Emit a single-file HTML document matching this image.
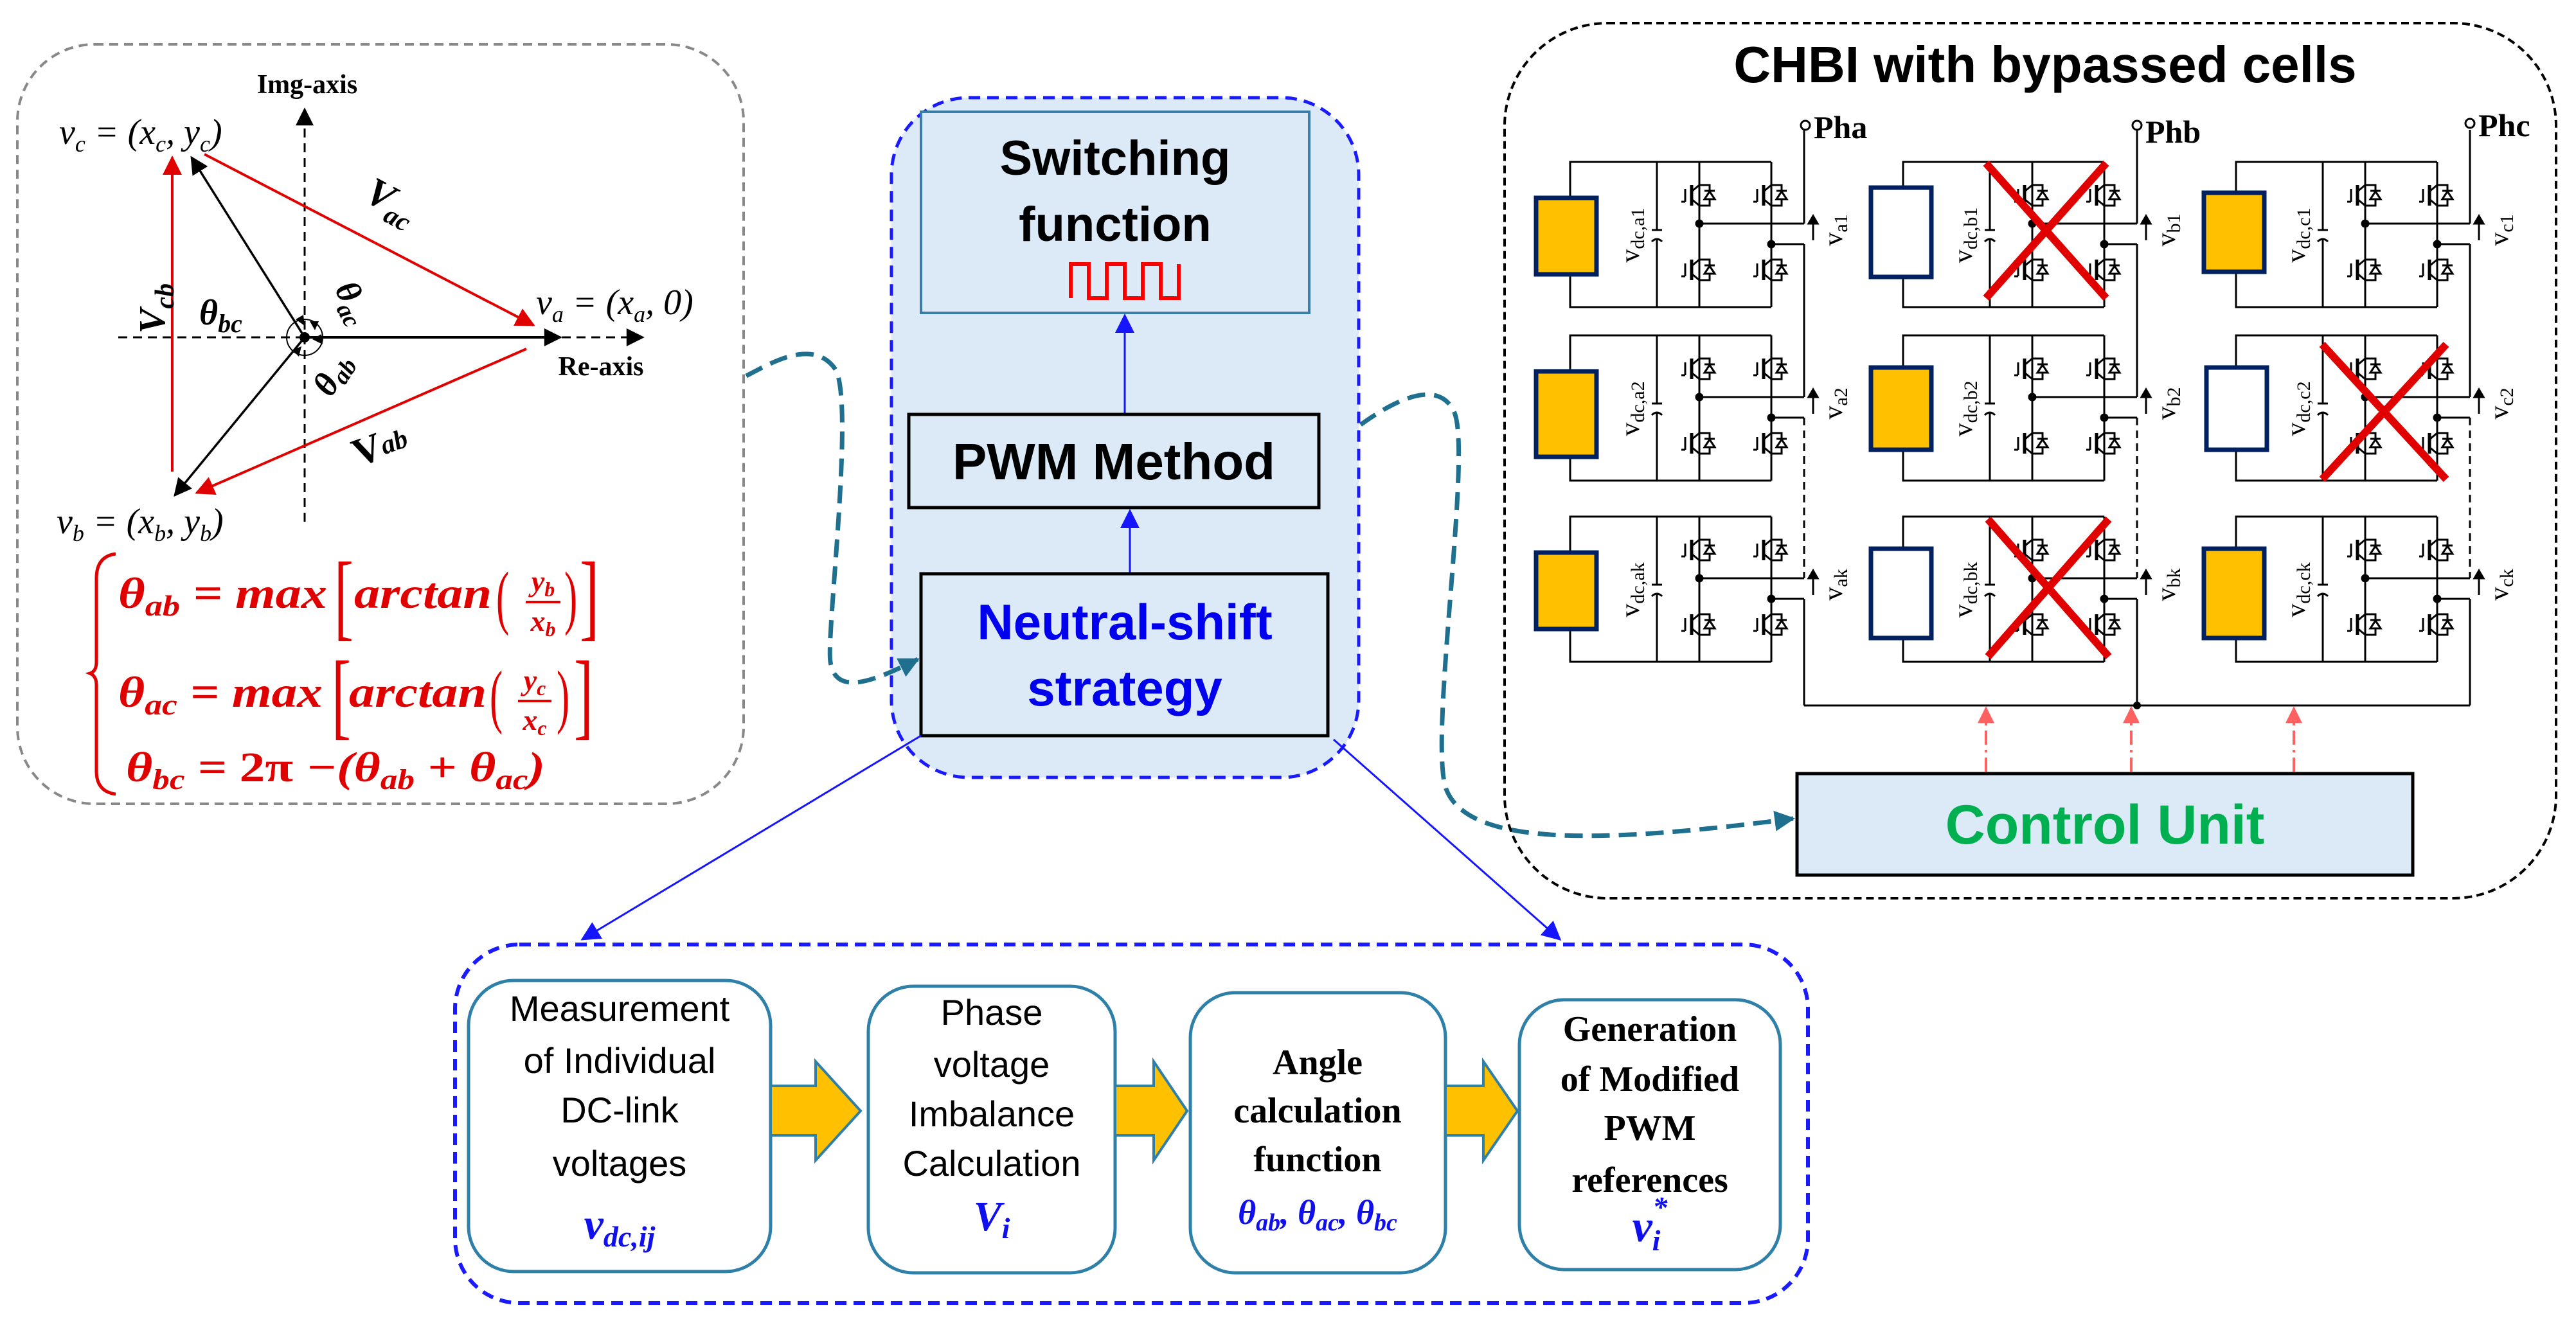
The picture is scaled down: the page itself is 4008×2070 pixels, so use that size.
<!DOCTYPE html>
<html><head><meta charset="utf-8"><style>
html,body{margin:0;padding:0;background:#fff;}
svg{display:block;}
.ser{font-family:"Liberation Serif",serif;}
.san{font-family:"Liberation Sans",sans-serif;}
</style></head><body>
<svg width="4008" height="2070" viewBox="0 0 4008 2070" xmlns="http://www.w3.org/2000/svg">
<defs>
<marker id="ar" viewBox="0 0 10 10" refX="9" refY="5" markerWidth="34" markerHeight="30" orient="auto" markerUnits="userSpaceOnUse"><path d="M0 0L10 5L0 10Z" fill="#e00000"/></marker>
<marker id="ak" viewBox="0 0 10 10" refX="9" refY="5" markerWidth="34" markerHeight="28" orient="auto" markerUnits="userSpaceOnUse"><path d="M0 0L10 5L0 10Z" fill="#000"/></marker>
<marker id="abl" viewBox="0 0 10 10" refX="9" refY="5" markerWidth="36" markerHeight="30" orient="auto" markerUnits="userSpaceOnUse"><path d="M0 0L10 5L0 10Z" fill="#1515ff"/></marker>
<marker id="at" viewBox="0 0 10 10" refX="9" refY="5" markerWidth="38" markerHeight="32" orient="auto" markerUnits="userSpaceOnUse"><path d="M0 0L10 5L0 10Z" fill="#1f6f8f"/></marker>
<marker id="apk" viewBox="0 0 10 10" refX="9" refY="5" markerWidth="28" markerHeight="26" orient="auto" markerUnits="userSpaceOnUse"><path d="M0 0L10 5L0 10Z" fill="#ff6060"/></marker>
<g id="sw" fill="none" stroke="#000" stroke-width="3">
  <path d="M-12 -16V16" stroke-width="5"/>
  <path d="M-22 -10V10M-22 10H-28"/>
  <path d="M-12 -6L0 -16M-12 6L0 16"/>
  <path d="M0 -16H16V16H0"/>
  <path d="M8 6H24L16 -6Z" fill="#fff"/>
  <path d="M8 -7H24"/>
</g>
<g id="cell" fill="none" stroke="#000" stroke-width="3">
  <path d="M313 0H0V226H313"/>
  <path d="M135 0V106M135 120V226M127 106H143M127 124Q135 116 143 124"/>
  <path d="M201 0V226M313 0V226"/>
  <path d="M201 96H364M313 128H364"/>
  <path d="M135 0H313M135 226H313"/>
  <use href="#sw" x="201" y="52"/><use href="#sw" x="201" y="168"/>
  <use href="#sw" x="313" y="52"/><use href="#sw" x="313" y="168"/>
  <circle cx="201" cy="96" r="5" fill="#000"/><circle cx="313" cy="128" r="5" fill="#000"/>
  <path d="M378 122V88"/><path d="M371 96L378 84L385 96Z" fill="#000"/>
</g>
</defs>

<!-- LEFT PANEL -->
<rect x="27" y="69" width="1130" height="1182" rx="120" fill="none" stroke="#888" stroke-width="4" stroke-dasharray="14 9"/>
<text x="478" y="145" class="ser" font-size="42" font-weight="bold" text-anchor="middle">Img-axis</text>
<line x1="474" y1="812" x2="474" y2="170" stroke="#000" stroke-width="3" stroke-dasharray="14 9" marker-end="url(#ak)"/>
<line x1="184" y1="525" x2="1000" y2="525" stroke="#000" stroke-width="3" stroke-dasharray="14 9" marker-end="url(#ak)"/>
<text x="935" y="584" class="ser" font-size="42" font-weight="bold" text-anchor="middle">Re-axis</text>
<line x1="268" y1="734" x2="268" y2="245" stroke="#e00000" stroke-width="4" marker-end="url(#ar)"/>
<line x1="318" y1="240" x2="830" y2="506" stroke="#e00000" stroke-width="4" marker-end="url(#ar)"/>
<line x1="819" y1="543" x2="306" y2="767" stroke="#e00000" stroke-width="4" marker-end="url(#ar)"/>
<line x1="474" y1="525" x2="298" y2="245" stroke="#000" stroke-width="3.5" marker-end="url(#ak)"/>
<line x1="474" y1="525" x2="872" y2="525" stroke="#000" stroke-width="4" marker-end="url(#ak)"/>
<line x1="474" y1="525" x2="272" y2="771" stroke="#000" stroke-width="3.5" marker-end="url(#ak)"/>
<circle cx="474" cy="525" r="28" fill="none" stroke="#000" stroke-width="2"/>
<circle cx="474" cy="525" r="8" fill="#000"/>
<path d="M460 497l14 10l-2-17zM500 520l-14 8l16 8zM455 545l14-6l-4 16zM482 500l8 14l6-14z" fill="#000"/>
<text x="92" y="224" class="ser" font-size="56" font-style="italic">v<tspan font-size="36" dy="12">c</tspan><tspan dy="-12"> = (x</tspan><tspan font-size="36" dy="12">c</tspan><tspan dy="-12">, y</tspan><tspan font-size="36" dy="12">c</tspan><tspan dy="-12">)</tspan></text>
<text x="834" y="489" class="ser" font-size="56" font-style="italic">v<tspan font-size="36" dy="12">a</tspan><tspan dy="-12"> = (x</tspan><tspan font-size="36" dy="12">a</tspan><tspan dy="-12">, 0)</tspan></text>
<text x="88" y="830" class="ser" font-size="56" font-style="italic">v<tspan font-size="36" dy="12">b</tspan><tspan dy="-12"> = (x</tspan><tspan font-size="36" dy="12">b</tspan><tspan dy="-12">, y</tspan><tspan font-size="36" dy="12">b</tspan><tspan dy="-12">)</tspan></text>
<text transform="translate(600,330) rotate(28)" class="ser" font-size="62" font-weight="bold" font-style="italic" text-anchor="middle">V<tspan font-size="42" dy="14">ac</tspan></text>
<text transform="translate(598,712) rotate(-20)" class="ser" font-size="62" font-weight="bold" text-anchor="middle">V<tspan font-size="42" font-style="italic" dy="-4">ab</tspan></text>
<text transform="translate(256,480) rotate(-90)" class="ser" font-size="58" font-weight="bold" font-style="italic" text-anchor="middle">V<tspan font-size="42" dy="14">cb</tspan></text>
<text x="310" y="505" class="ser" font-size="56" font-weight="bold" font-style="italic">θ<tspan font-size="40" dy="12">bc</tspan></text>
<text transform="translate(520,450) rotate(62)" class="ser" font-size="54" font-weight="bold" font-style="italic">θ<tspan font-size="38" dy="12">ac</tspan></text>
<text transform="translate(515,620) rotate(-58)" class="ser" font-size="54" font-weight="bold" font-style="italic">θ<tspan font-size="38" dy="8">ab</tspan></text>
<!-- equations -->
<path d="M180 862Q150 866 150 900V1030Q150 1045 140 1048Q150 1052 150 1066V1200Q150 1232 180 1236" fill="none" stroke="#e00000" stroke-width="5"/>
<g class="ser" fill="#e00000" font-weight="bold" font-style="italic">
<text x="184" y="946" font-size="68" textLength="325" lengthAdjust="spacingAndGlyphs">θ<tspan font-size="46" dy="12">ab</tspan><tspan dy="-12"> = max</tspan></text>
<text x="520" y="978" font-size="150" font-style="normal" font-weight="normal" transform="translate(520,978) scale(0.6,1) translate(-520,-978)">[</text>
<text x="551" y="946" font-size="68" textLength="214" lengthAdjust="spacingAndGlyphs">arctan</text>
<text x="772" y="966" font-size="110" font-weight="normal" font-style="normal" transform="translate(772,966) scale(0.55,1) translate(-772,-966)">(</text>
<text x="845" y="920" font-size="46" text-anchor="middle">y<tspan font-size="32" dy="8">b</tspan></text>
<line x1="818" y1="937" x2="872" y2="937" stroke="#e00000" stroke-width="4"/>
<text x="845" y="982" font-size="46" text-anchor="middle">x<tspan font-size="32" dy="8">b</tspan></text>
<text x="878" y="966" font-size="110" font-weight="normal" font-style="normal" transform="translate(878,966) scale(0.55,1) translate(-878,-966)">)</text>
<text x="902" y="978" font-size="150" font-style="normal" font-weight="normal" transform="translate(902,978) scale(0.6,1) translate(-902,-978)">]</text>

<text x="184" y="1100" font-size="68" textLength="318" lengthAdjust="spacingAndGlyphs">θ<tspan font-size="46" dy="12">ac</tspan><tspan dy="-12"> = max</tspan></text>
<text x="516" y="1132" font-size="150" font-style="normal" font-weight="normal" transform="translate(516,1132) scale(0.6,1) translate(-516,-1132)">[</text>
<text x="543" y="1100" font-size="68" textLength="214" lengthAdjust="spacingAndGlyphs">arctan</text>
<text x="762" y="1120" font-size="110" font-weight="normal" font-style="normal" transform="translate(762,1120) scale(0.55,1) translate(-762,-1120)">(</text>
<text x="832" y="1074" font-size="46" text-anchor="middle">y<tspan font-size="32" dy="8">c</tspan></text>
<line x1="806" y1="1091" x2="858" y2="1091" stroke="#e00000" stroke-width="4"/>
<text x="832" y="1136" font-size="46" text-anchor="middle">x<tspan font-size="32" dy="8">c</tspan></text>
<text x="866" y="1120" font-size="110" font-weight="normal" font-style="normal" transform="translate(866,1120) scale(0.55,1) translate(-866,-1120)">)</text>
<text x="893" y="1132" font-size="150" font-style="normal" font-weight="normal" transform="translate(893,1132) scale(0.6,1) translate(-893,-1132)">]</text>

<text x="196" y="1216" font-size="66" textLength="652" lengthAdjust="spacingAndGlyphs">θ<tspan font-size="44" dy="12">bc</tspan><tspan dy="-12"> = </tspan><tspan font-style="normal">2π</tspan><tspan> −(θ</tspan><tspan font-size="44" dy="12">ab</tspan><tspan dy="-12"> + θ</tspan><tspan font-size="44" dy="12">ac</tspan><tspan dy="-12">)</tspan></text>
</g>

<!-- MIDDLE PANEL -->
<rect x="1387" y="152" width="727" height="1058" rx="120" fill="#dbeaf6" stroke="#1a1aff" stroke-width="5" stroke-dasharray="18 11"/>
<rect x="1433" y="174" width="604" height="313" fill="#dbeaf6" stroke="#3a7ea8" stroke-width="4"/>
<text x="1735" y="272" class="san" font-size="76" font-weight="bold" text-anchor="middle">Switching</text>
<text x="1735" y="375" class="san" font-size="76" font-weight="bold" text-anchor="middle">function</text>
<path d="M1666 464V411H1694V464H1722V411H1750V464H1778V411H1806V464H1834V411" fill="none" stroke="#ff0000" stroke-width="6"/>
<line x1="1750" y1="645" x2="1750" y2="491" stroke="#1515ff" stroke-width="3" marker-end="url(#abl)"/>
<rect x="1414" y="645" width="638" height="145" fill="#dbeaf6" stroke="#000" stroke-width="5"/>
<text x="1733" y="746" class="san" font-size="80" font-weight="bold" text-anchor="middle">PWM Method</text>
<line x1="1758" y1="893" x2="1758" y2="795" stroke="#1515ff" stroke-width="3" marker-end="url(#abl)"/>
<rect x="1433" y="893" width="633" height="252" fill="#dbeaf6" stroke="#000" stroke-width="5"/>
<text x="1750" y="995" class="san" font-size="78" font-weight="bold" fill="#0000ee" text-anchor="middle">Neutral-shift</text>
<text x="1750" y="1098" class="san" font-size="78" font-weight="bold" fill="#0000ee" text-anchor="middle">strategy</text>

<!-- connectors -->
<path d="M1161 585C1200 565 1265 525 1300 575C1330 630 1285 990 1292 1030C1300 1085 1360 1060 1428 1026" fill="none" stroke="#1f6f8f" stroke-width="7" stroke-dasharray="28 14" marker-end="url(#at)"/>
<path d="M2117 661C2160 630 2235 585 2262 640C2292 700 2222 1150 2250 1228C2285 1320 2500 1312 2790 1274" fill="none" stroke="#1f6f8f" stroke-width="7" stroke-dasharray="28 14" marker-end="url(#at)"/>
<line x1="1433" y1="1145" x2="906" y2="1462" stroke="#1515ff" stroke-width="3" marker-end="url(#abl)"/>
<line x1="2075" y1="1151" x2="2427" y2="1462" stroke="#1515ff" stroke-width="3" marker-end="url(#abl)"/>

<!-- RIGHT PANEL -->
<rect x="2341" y="36" width="1636" height="1362" rx="160" fill="none" stroke="#000" stroke-width="4" stroke-dasharray="12 7"/>
<text x="3182" y="128" class="san" font-size="80" font-weight="bold" text-anchor="middle">CHBI with bypassed cells</text>

<g>
<use href="#cell" x="2443" y="252"/><use href="#cell" x="2443" y="522"/><use href="#cell" x="2443" y="804"/>
<use href="#cell" x="2961" y="252"/><use href="#cell" x="2961" y="522"/><use href="#cell" x="2961" y="804"/>
<use href="#cell" x="3479" y="252"/><use href="#cell" x="3479" y="522"/><use href="#cell" x="3479" y="804"/>
</g>
<g stroke="#002060" stroke-width="7">
<rect x="2390" y="308" width="94" height="119" fill="#ffc000"/>
<rect x="2390" y="578" width="94" height="133" fill="#ffc000"/>
<rect x="2390" y="860" width="94" height="119" fill="#ffc000"/>
<rect x="2911" y="292" width="94" height="139" fill="#fff"/>
<rect x="2911" y="572" width="94" height="128" fill="#ffc000"/>
<rect x="2911" y="854" width="94" height="139" fill="#fff"/>
<rect x="3429" y="300" width="94" height="123" fill="#ffc000"/>
<rect x="3433" y="572" width="94" height="128" fill="#fff"/>
<rect x="3429" y="854" width="94" height="139" fill="#ffc000"/>
</g>
<g fill="none" stroke="#000" stroke-width="3">
<path d="M2807 202V348M2807 380V618M2807 932V1098"/><path d="M2807 650V900" stroke-dasharray="12 8"/>
<path d="M3325 202V348M3325 380V618M3325 932V1098"/><path d="M3325 650V900" stroke-dasharray="12 8"/>
<path d="M3843 202V348M3843 380V618M3843 932V1098"/><path d="M3843 650V900" stroke-dasharray="12 8"/>
<path d="M2807 1098H3843"/>
<circle cx="2809" cy="195" r="7" fill="#fff"/><circle cx="3325" cy="195" r="7" fill="#fff"/><circle cx="3843" cy="192" r="7" fill="#fff"/>
</g>
<circle cx="3325" cy="1098" r="6"/>
<g class="ser" font-size="50" font-weight="bold">
<text x="2822" y="215">Pha</text><text x="3338" y="222">Phb</text><text x="3856" y="212">Phc</text>
</g>
<g class="ser" font-size="42">
<text transform="translate(2550,366) rotate(-90)" text-anchor="middle">v<tspan font-size="30" dy="8">dc,a1</tspan></text>
<text transform="translate(2550,636) rotate(-90)" text-anchor="middle">v<tspan font-size="30" dy="8">dc,a2</tspan></text>
<text transform="translate(2550,918) rotate(-90)" text-anchor="middle">v<tspan font-size="30" dy="8">dc,ak</tspan></text>
<text transform="translate(3068,366) rotate(-90)" text-anchor="middle">v<tspan font-size="30" dy="8">dc,b1</tspan></text>
<text transform="translate(3068,636) rotate(-90)" text-anchor="middle">v<tspan font-size="30" dy="8">dc,b2</tspan></text>
<text transform="translate(3068,918) rotate(-90)" text-anchor="middle">v<tspan font-size="30" dy="8">dc,bk</tspan></text>
<text transform="translate(3586,366) rotate(-90)" text-anchor="middle">v<tspan font-size="30" dy="8">dc,c1</tspan></text>
<text transform="translate(3586,636) rotate(-90)" text-anchor="middle">v<tspan font-size="30" dy="8">dc,c2</tspan></text>
<text transform="translate(3586,918) rotate(-90)" text-anchor="middle">v<tspan font-size="30" dy="8">dc,ck</tspan></text>
<text transform="translate(2866,358) rotate(-90)" text-anchor="middle">v<tspan font-size="30" dy="8">a1</tspan></text>
<text transform="translate(2866,628) rotate(-90)" text-anchor="middle">v<tspan font-size="30" dy="8">a2</tspan></text>
<text transform="translate(2866,910) rotate(-90)" text-anchor="middle">v<tspan font-size="30" dy="8">ak</tspan></text>
<text transform="translate(3384,358) rotate(-90)" text-anchor="middle">v<tspan font-size="30" dy="8">b1</tspan></text>
<text transform="translate(3384,628) rotate(-90)" text-anchor="middle">v<tspan font-size="30" dy="8">b2</tspan></text>
<text transform="translate(3384,910) rotate(-90)" text-anchor="middle">v<tspan font-size="30" dy="8">bk</tspan></text>
<text transform="translate(3902,358) rotate(-90)" text-anchor="middle">v<tspan font-size="30" dy="8">c1</tspan></text>
<text transform="translate(3902,628) rotate(-90)" text-anchor="middle">v<tspan font-size="30" dy="8">c2</tspan></text>
<text transform="translate(3902,910) rotate(-90)" text-anchor="middle">v<tspan font-size="30" dy="8">ck</tspan></text>
</g>
<g stroke="#e00000" stroke-width="12">
<path d="M3090 254L3277 464M3277 254L3090 464"/>
<path d="M3613 536L3806 746M3806 536L3613 746"/>
<path d="M3093 808L3281 1022M3281 808L3093 1022"/>
</g>
<g stroke="#ff6060" stroke-width="4" stroke-dasharray="22 8 4 8">
<line x1="3090" y1="1201" x2="3090" y2="1102" marker-end="url(#apk)"/>
<line x1="3316" y1="1201" x2="3316" y2="1102" marker-end="url(#apk)"/>
<line x1="3569" y1="1201" x2="3569" y2="1102" marker-end="url(#apk)"/>
</g>
<rect x="2796" y="1204" width="958" height="158" fill="#dbeaf6" stroke="#000" stroke-width="5"/>
<text x="3275" y="1313" class="san" font-size="86" font-weight="bold" fill="#00b050" text-anchor="middle">Control Unit</text>

<!-- BOTTOM PANEL -->
<rect x="708" y="1470" width="2105" height="558" rx="100" fill="none" stroke="#1a1aff" stroke-width="6" stroke-dasharray="18 11"/>
<g fill="#fff" stroke="#2f80a8" stroke-width="5">
<rect x="729" y="1526" width="470" height="453" rx="70"/>
<rect x="1351" y="1535" width="384" height="446" rx="70"/>
<rect x="1852" y="1545" width="397" height="436" rx="70"/>
<rect x="2364" y="1556" width="406" height="420" rx="70"/>
</g>
<g fill="#ffc000" stroke="#2f80a8" stroke-width="4">
<path d="M1199 1690H1269V1652L1339 1729L1269 1806V1767H1199Z"/>
<path d="M1735 1690H1795V1652L1847 1729L1795 1806V1767H1735Z"/>
<path d="M2249 1690H2308V1652L2361 1729L2308 1806V1767H2249Z"/>
</g>
<g class="san" font-size="56" text-anchor="middle">
<text x="964" y="1589">Measurement</text>
<text x="964" y="1670">of Individual</text>
<text x="964" y="1747">DC-link</text>
<text x="964" y="1830">voltages</text>
<text x="1543" y="1595">Phase</text>
<text x="1543" y="1676">voltage</text>
<text x="1543" y="1753">Imbalance</text>
<text x="1543" y="1830">Calculation</text>
</g>
<g class="ser" font-size="56" font-weight="bold" text-anchor="middle">
<text x="2050" y="1672">Angle</text>
<text x="2050" y="1747">calculation</text>
<text x="2050" y="1823">function</text>
<text x="2567" y="1620">Generation</text>
<text x="2567" y="1698">of Modified</text>
<text x="2567" y="1774">PWM</text>
<text x="2567" y="1855">references</text>
</g>
<g class="ser" fill="#1010ee" font-weight="bold" font-style="italic" text-anchor="middle">
<text x="964" y="1928" font-size="68">v<tspan font-size="46" dy="12">dc,ij</tspan></text>
<text x="1543" y="1915" font-size="66">V<tspan font-size="46" dy="12">i</tspan></text>
<text x="2050" y="1905" font-size="54">θ<tspan font-size="38" dy="10">ab</tspan><tspan dy="-10">, θ</tspan><tspan font-size="38" dy="10">ac</tspan><tspan dy="-10">, θ</tspan><tspan font-size="38" dy="10">bc</tspan></text>
<text x="2567" y="1932" font-size="70">v<tspan font-size="46" dy="14">i</tspan><tspan font-size="46" dx="-12" dy="-52">*</tspan></text>
</g>
</svg>
</body></html>
